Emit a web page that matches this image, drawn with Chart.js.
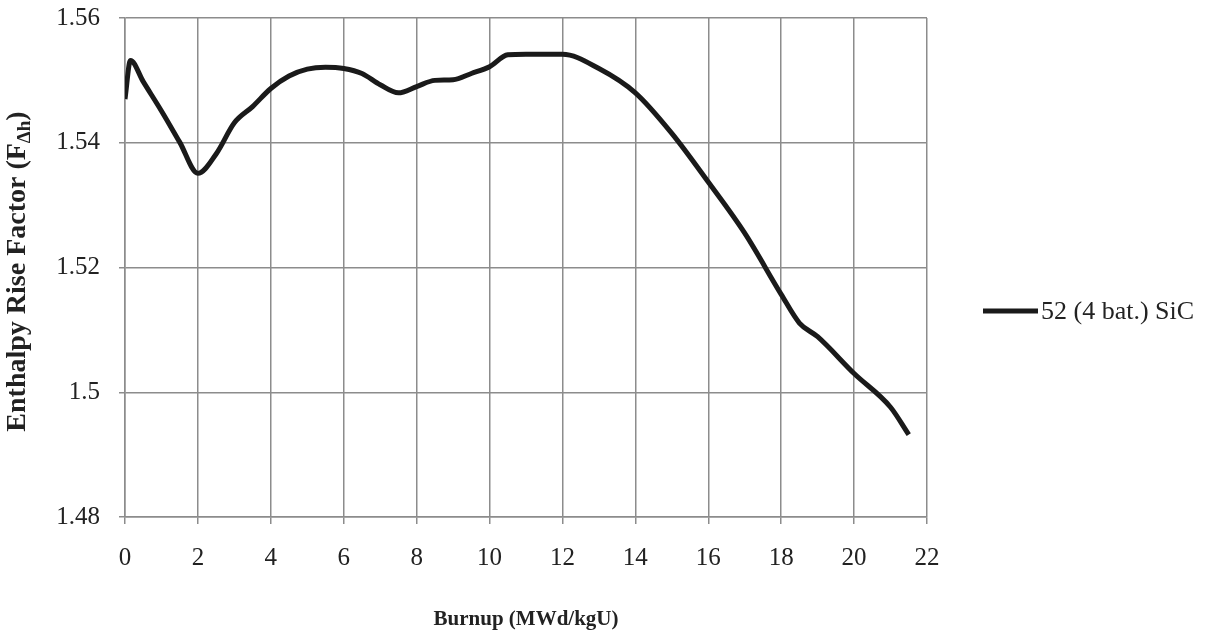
<!DOCTYPE html>
<html>
<head>
<meta charset="utf-8">
<script src="https://cdn.jsdelivr.net/npm/chart.js@4.4.0/dist/chart.umd.min.js"></script>
<style>
  html, body { margin: 0; padding: 0; background: #fff; }
  #wrap { width: 1206px; height: 635px; }
</style>
</head>
<body>
<div id="wrap"><canvas id="fdhChart" width="1206" height="635"></canvas></div>
<script>
// burnup (MWd/kgU) and enthalpy rise factor
const burnup = [0, 0.15, 0.5, 1, 1.5, 2, 2.5, 3, 3.5, 4, 4.5, 5, 5.5, 6, 6.5, 7, 7.5, 8, 8.5, 9, 9.5, 10, 10.5, 11, 12, 13, 14, 15, 16, 17, 18, 18.5, 19, 20, 21, 21.5];
const fdh = [1.547, 1.5532, 1.5498, 1.5451, 1.5401, 1.5351, 1.5382, 1.5432, 1.5458, 1.5487, 1.5507, 1.5518, 1.5521, 1.5519, 1.5511, 1.5493, 1.548, 1.549, 1.55, 1.5501, 1.5511, 1.5522, 1.5541, 1.5542, 1.5542, 1.5519, 1.548, 1.5415, 1.5337, 1.5255, 1.5157, 1.5111, 1.5089, 1.503, 1.4976, 1.4932];
const seriesName = "52 (4 bat.) SiC";
const xTitle = "Burnup (MWd/kgU)";

const serif = "'Liberation Serif', 'DejaVu Serif', serif";

// y title with subscript and the legend on the right
const extras = {
  id: "extras",
  afterDraw(chart) {
    const ctx = chart.ctx;
    const area = chart.chartArea;
    ctx.save();
    // y axis title
    ctx.translate(18, (area.top + area.bottom) / 2 + 4);
    ctx.rotate(-Math.PI / 2);
    ctx.fillStyle = "#222";
    ctx.textBaseline = "middle";
    const main = "Enthalpy Rise Factor (F";
    const sub = "\u0394h";
    ctx.font = "bold 28px " + serif;
    const w1 = ctx.measureText(main).width;
    ctx.font = "bold 19px " + serif;
    const w2 = ctx.measureText(sub).width;
    ctx.font = "bold 28px " + serif;
    const w3 = ctx.measureText(")").width;
    let x = -(w1 + w2 + w3) / 2;
    ctx.textAlign = "left";
    ctx.fillText(main, x, 0);
    x += w1;
    ctx.font = "bold 19px " + serif;
    ctx.fillText(sub, x, 7);
    x += w2;
    ctx.font = "bold 28px " + serif;
    ctx.fillText(")", x, 0);
    ctx.restore();

    // legend
    ctx.save();
    ctx.strokeStyle = "#1a1a1a";
    ctx.lineWidth = 5;
    ctx.beginPath();
    ctx.moveTo(983, 311);
    ctx.lineTo(1038, 311);
    ctx.stroke();
    ctx.fillStyle = "#222";
    ctx.font = "26px " + serif;
    ctx.textBaseline = "middle";
    ctx.fillText(seriesName, 1041, 312);
    ctx.restore();
  }
};

new Chart(document.getElementById("fdhChart"), {
  type: "line",
  data: {
    datasets: [{
      label: seriesName,
      data: burnup.map((b, i) => ({ x: b, y: fdh[i] })),
      borderColor: "#1a1a1a",
      borderWidth: 5,
      pointRadius: 0,
      cubicInterpolationMode: "monotone",
      fill: false
    }]
  },
  options: {
    responsive: false,
    animation: false,
    layout: { padding: { top: 18, right: 279, left: 0, bottom: 0 } },
    plugins: {
      legend: { display: false },
      tooltip: { enabled: false }
    },
    scales: {
      x: {
        type: "linear",
        min: 0,
        max: 22,
        afterFit(scale) { scale.height = 118; scale.paddingRight = 0; scale.paddingLeft = 0; },
        ticks: {
          stepSize: 2,
          padding: 19,
          color: "#222",
          font: { family: serif, size: 25 }
        },
        grid: { color: "#8c8c8c", lineWidth: 1.5, tickLength: 7 },
        border: { color: "#8c8c8c", width: 1.5 },
        title: {
          display: true,
          text: xTitle,
          color: "#222",
          font: { family: serif, size: 21, weight: "bold" },
          padding: { top: 0, bottom: 3 }
        }
      },
      y: {
        min: 1.48,
        max: 1.56,
        afterFit(scale) { scale.width = 125; scale.paddingTop = 0; scale.paddingBottom = 0; },
        ticks: {
          stepSize: 0.02,
          padding: 19,
          color: "#222",
          font: { family: serif, size: 25 },
          callback: v => String(parseFloat(v.toFixed(2)))
        },
        grid: { color: "#8c8c8c", lineWidth: 1.5, tickLength: 6 },
        border: { color: "#8c8c8c", width: 1.5 }
      }
    }
  },
  plugins: [extras]
});
</script>
</body>
</html>
